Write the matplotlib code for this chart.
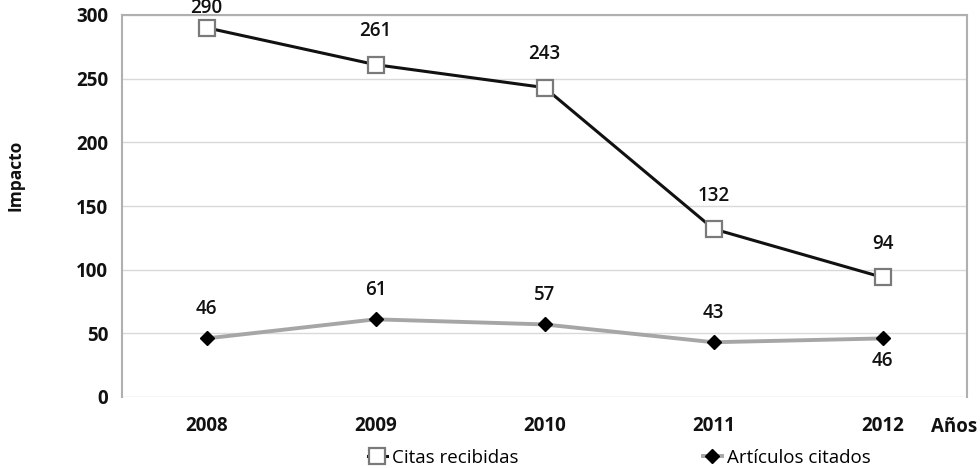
import matplotlib
matplotlib.use("Agg")
import matplotlib.pyplot as plt
from matplotlib.lines import Line2D

years = ["2008", "2009", "2010", "2011", "2012"]
citas = [290, 261, 243, 132, 94]
articulos = [46, 61, 57, 43, 46]
yticks = [0, 50, 100, 150, 200, 250, 300]

plt.rcParams['font.family'] = ['Open Sans', 'DejaVu Sans']

fig = plt.figure(figsize=(9.8, 4.68), dpi=100)
ax = fig.add_axes([122/980, 1-397/468, (967-122)/980, (397-15)/468])

x = list(range(len(years)))
ax.plot(x, citas, color='#111111', lw=2.2, marker='s', markersize=11,
        markerfacecolor='white', markeredgecolor='#7a7a7a', markeredgewidth=1.6, zorder=3)
ax.plot(x, articulos, color='#a6a6a6', lw=2.8, marker='D', markersize=7,
        markerfacecolor='black', markeredgecolor='black', zorder=3)

lab_kw = dict(textcoords='offset points', ha='center', fontsize=13.5,
              fontweight='semibold', color='#111111', annotation_clip=False, zorder=5)
for i, (xi, v) in enumerate(zip(x, citas)):
    off = 24 if i > 0 else 14
    ax.annotate(str(v), (xi, v), xytext=(0, off), va='center', **lab_kw)
for i, (xi, v) in enumerate(zip(x, articulos)):
    off = -16 if i == len(x) - 1 else 21
    ax.annotate(str(v), (xi, v), xytext=(0, off), va='center', **lab_kw)

ax.set_xlim(-0.5, len(years) - 0.5)
ax.set_ylim(0, 300)
ax.set_yticks(yticks)
ax.set_yticklabels([str(t) for t in yticks])
ax.set_xticks(x)
ax.set_xticklabels(years)
ax.tick_params(axis='both', length=0, labelsize=13.5)
ax.tick_params(axis='y', pad=10)
ax.tick_params(axis='x', pad=14)
for lab in ax.get_xticklabels() + ax.get_yticklabels():
    lab.set_fontweight('bold')
    lab.set_color('#111111')

ax.yaxis.grid(True, color='#d9d9d9', lw=1)
ax.set_axisbelow(True)
for s in ['left', 'right', 'top']:
    ax.spines[s].set_color('#b0b0b0')
    ax.spines[s].set_linewidth(1.5)
ax.spines['bottom'].set_visible(False)

fig.text(15/980, 1-175/468, 'Impacto', rotation=90, ha='center', va='center',
         fontsize=12.5, fontweight='bold', color='#111111')
fig.text(931/980, 1-427/468, 'Años', ha='left', va='center',
         fontsize=13.5, fontweight='bold', color='#111111')

h1 = Line2D([], [], color='#111111', lw=2.2, marker='s', markersize=11,
            markerfacecolor='white', markeredgecolor='#7a7a7a', markeredgewidth=1.6)
h2 = Line2D([], [], color='#a6a6a6', lw=2.8, marker='D', markersize=7,
            markerfacecolor='black', markeredgecolor='black')
leg_kw = dict(loc='center left', frameon=False, fontsize=13.5, handlelength=1.0,
              handletextpad=0.3, borderpad=0, borderaxespad=0)
fig.legend([h1], ['Citas recibidas'], bbox_to_anchor=(368/980, 1-458/468), **leg_kw)
fig.legend([h2], ['Artículos citados'], bbox_to_anchor=(703/980, 1-458/468), **leg_kw)

fig.savefig('out.png', dpi=100)
